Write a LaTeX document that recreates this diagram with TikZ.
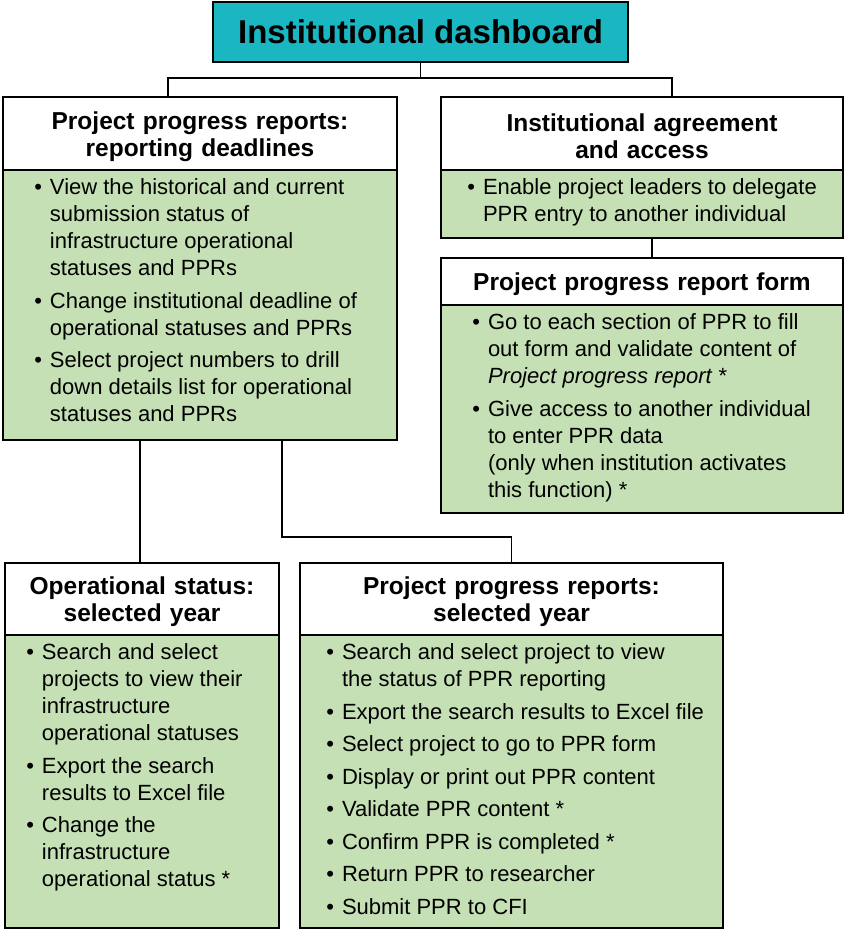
\documentclass[tikz,border=0pt]{standalone}
\usepackage{fontspec}
\setmainfont{Liberation Sans}
\usepackage{xcolor}
\usepackage{enumitem}
\usetikzlibrary{positioning}

\definecolor{dashteal}{RGB}{26,182,193}
\definecolor{cardgreen}{RGB}{197,224,180}

\newcommand{\cardbody}[4]{%
  \parbox[c][#2][t]{#1}{\vspace*{9pt}\raggedright
    \begin{itemize}[nosep, leftmargin=#3, labelsep=8pt, itemsep=5.5pt]
      #4
    \end{itemize}}}

\begin{document}
\begin{tikzpicture}[x=1pt, y=-1pt, line width=1.6pt, outer sep=0pt,
    head/.style={draw, fill=white, anchor=north west, align=center, text height=24pt, font=\fontsize{24.5}{27}\selectfont\bfseries},
    card/.style={draw, fill=cardgreen, anchor=north west, inner sep=0pt, font=\fontsize{22}{27}\selectfont}]
  \useasboundingbox (0,0) rectangle (844,930);

  \node[draw, fill=dashteal, anchor=north west, minimum width=415pt, minimum height=60pt, font=\fontsize{33}{40}\selectfont\bfseries] (title) at (213,2) {Institutional dashboard};

  \node[head, minimum width=394pt, minimum height=73pt, text width=370pt] (hdA) at (3,97) {Project progress reports:\\ reporting deadlines};
  \node[card] (bdA) at (hdA.south west) {\cardbody{394pt}{270pt}{47pt}{
      \item View the historical and current\\ submission status of\\ infrastructure operational\\ statuses and PPRs
      \item Change institutional deadline of\\ operational statuses and PPRs
      \item Select project numbers to drill\\ down details list for operational\\ statuses and PPRs}};

  \node[head, minimum width=402pt, minimum height=73pt, text width=380pt] (hdB) at (441,97) {Institutional agreement\\ and access};
  \node[card] (bdB) at (hdB.south west) {\cardbody{402pt}{68pt}{42pt}{
      \item Enable project leaders to delegate\\ PPR entry to another individual}};

  \node[head, minimum width=402pt, minimum height=47pt, text width=380pt] (hdC) at (441,258) {Project progress report form};
  \node[card] (bdC) at (hdC.south west) {\cardbody{402pt}{208pt}{47pt}{
      \item Go to each section of PPR to fill\\ out form and validate content of\\ \textit{Project progress report} *
      \item Give access to another individual\\ to enter PPR data\\ (only when institution activates\\ this function) *}};

  \node[head, minimum width=274pt, minimum height=72pt, text width=250pt] (hdD) at (5,563) {Operational status:\\ selected year};
  \node[card] (bdD) at (hdD.south west) {\cardbody{274pt}{293pt}{37pt}{
      \item Search and select\\ projects to view their\\ infrastructure\\ operational statuses
      \item Export the search\\ results to Excel file
      \item Change the\\ infrastructure\\ operational status *}};

  \node[head, minimum width=423pt, minimum height=72pt, text width=400pt] (hdE) at (300,563) {Project progress reports:\\ selected year};
  \node[card] (bdE) at (hdE.south west) {\cardbody{423pt}{293pt}{42pt}{
      \item Search and select project to view\\ the status of PPR reporting
      \item Export the search results to Excel file
      \item Select project to go to PPR form
      \item Display or print out PPR content
      \item Validate PPR content *
      \item Confirm PPR is completed *
      \item Return PPR to researcher
      \item Submit PPR to CFI}};

  \draw (title.south) -- ++(0,16) -| ([xshift=-32pt]hdA.north);
  \draw (title.south) -- ++(0,16) -| ([xshift=30pt]hdB.north);
  \draw ([xshift=10pt]bdB.south) -- ([xshift=10pt]hdC.north);
  \draw ([xshift=-2pt]hdD.north) -- ([xshift=-2pt]hdD.north |- bdA.south);
  \draw ([xshift=82pt]bdA.south) -- ++(0,97) -| (hdE.north);
\end{tikzpicture}
\end{document}
